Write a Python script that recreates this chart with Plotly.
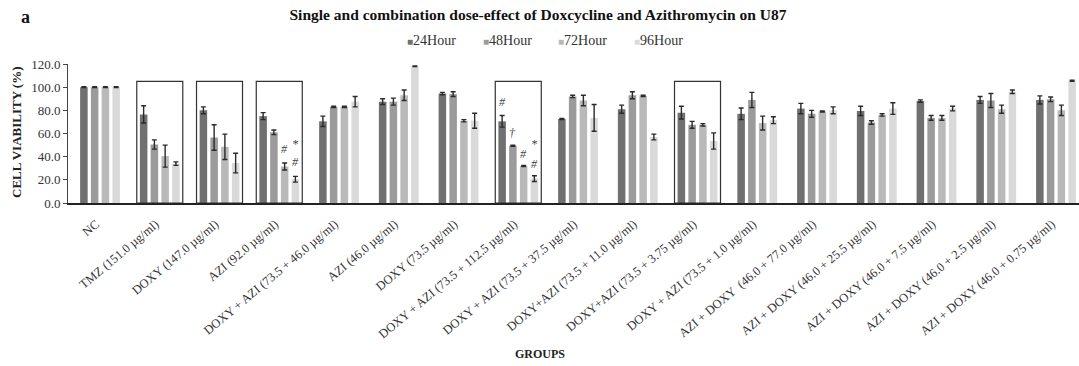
import plotly.graph_objects as go

groups = [
    "NC",
    "TMZ (151.0 µg/ml)",
    "DOXY (147.0 µg/ml)",
    "AZI (92.0 µg/ml)",
    "DOXY + AZI (73.5 + 46.0 µg/ml)",
    "AZI (46.0 µg/ml)",
    "DOXY (73.5 µg/ml)",
    "DOXY + AZI (73.5 + 112.5 µg/ml)",
    "DOXY + AZI (73.5 + 37.5 µg/ml)",
    "DOXY+AZI (73.5 + 11.0 µg/ml)",
    "DOXY+AZI (73.5 + 3.75 µg/ml)",
    "DOXY + AZI (73.5 + 1.0 µg/ml)",
    "AZI + DOXY  (46.0 + 77.0 µg/ml)",
    "AZI + DOXY (46.0 + 25.5 µg/ml)",
    "AZI + DOXY (46.0 + 7.5 µg/ml)",
    "AZI + DOXY (46.0 + 2.5 µg/ml)",
    "AZI + DOXY (46.0 + 0.75 µg/ml)",
]

series_names = ["24Hour", "48Hour", "72Hour", "96Hour"]

viab_24h = [100.0, 76.5, 80.0, 75.0, 70.5, 87.5, 94.5, 70.5, 72.5, 81.0, 78.0, 77.0, 81.5, 79.5, 88.0, 89.0, 89.0]
viab_48h = [100.0, 50.5, 56.5, 61.0, 83.0, 87.5, 94.0, 49.5, 92.0, 93.0, 67.5, 89.0, 77.0, 69.5, 73.5, 88.5, 89.5]
viab_72h = [100.0, 40.5, 48.5, 31.5, 83.0, 93.0, 71.0, 32.0, 88.5, 92.5, 67.5, 69.0, 79.0, 76.0, 73.5, 81.0, 80.0]
viab_96h = [100.0, 34.0, 34.5, 20.5, 87.5, 118.0, 71.0, 21.0, 73.5, 57.0, 53.5, 71.5, 80.0, 81.5, 81.5, 96.0, 105.5]

err_24h = [0.3, 7.5, 3.0, 3.0, 4.5, 2.5, 1.0, 5.0, 0.5, 3.5, 5.5, 5.0, 4.5, 4.0, 1.0, 3.0, 3.5]
err_48h = [0.3, 4.0, 11.0, 2.0, 0.5, 3.0, 2.0, 0.5, 1.0, 3.0, 3.0, 6.5, 3.0, 1.5, 2.0, 6.0, 2.0]
err_72h = [0.3, 9.5, 11.0, 3.0, 0.5, 4.5, 1.0, 0.5, 4.5, 0.5, 1.0, 6.0, 0.5, 1.0, 2.0, 3.5, 4.5]
err_96h = [0.3, 1.5, 8.5, 2.5, 4.5, 0.3, 6.5, 2.5, 11.5, 2.5, 7.0, 3.0, 3.0, 5.0, 2.0, 1.5, 0.5]

colors = ["#707070", "#9b9b9b", "#b9b9b9", "#d9d9d9"]

# groups outlined with a frame, and the frame height in % viability
boxed_groups = [1, 2, 3, 7, 10]
box_top = 105.0

# significance marks: (group index, series index, symbol, y level)
sig_marks = [
    (3, 2, "#", 47.0),
    (3, 3, "*", 51.0),
    (3, 3, "#", 35.0),
    (7, 0, "#", 87.0),
    (7, 1, "†", 60.5),
    (7, 2, "#", 42.5),
    (7, 3, "*", 51.0),
    (7, 3, "#", 33.5),
]

SERIF = "Liberation Serif, Times New Roman, serif"
W, H = 1079, 366
ML, MR, MT, MB = 68, 0, 64, 163
PW, PH = W - ML - MR, H - MT - MB
bargap = 0.28
bargroupgap = 0.3


def px_x(px):
    return (px - ML) / PW


def px_y(py):
    return (H - MB - py) / PH


values = [viab_24h, viab_48h, viab_72h, viab_96h]
errors = [err_24h, err_48h, err_72h, err_96h]

fig = go.Figure()
for name, vals, errs, col in zip(series_names, values, errors, colors):
    fig.add_trace(go.Bar(
        name=name,
        x=list(range(len(groups))),
        y=vals,
        marker=dict(color=col, line=dict(width=0)),
        error_y=dict(type="data", array=errs, visible=True,
                     color="#2a2a2a", thickness=1.4, width=2.5),
        showlegend=False,
    ))

for g in boxed_groups:
    fig.add_shape(type="rect", xref="x", yref="y",
                  x0=g - 0.385, x1=g + 0.385, y0=0, y1=box_top,
                  line=dict(color="#333333", width=1.2), fillcolor="rgba(0,0,0,0)",
                  layer="above")

slot = (1 - bargap) / 4
for g, s, sym, yv in sig_marks:
    xc = g - (1 - bargap) / 2 + (s + 0.5) * slot
    fig.add_annotation(x=xc, y=yv, xref="x", yref="y", text=f"<i>{sym}</i>", showarrow=False,
                       font=dict(family=SERIF, size=12, color="#444444"),
                       xanchor="center", yanchor="middle")

# legend row: small grey squares followed by the series names
for i, (name, col) in enumerate(zip(series_names, colors)):
    fig.add_annotation(
        x=px_x(405 + i * 75.5), y=px_y(40), xref="paper", yref="paper",
        text=f'<span style="color:{col};font-size:10px">■</span>{name}',
        showarrow=False, xanchor="left", yanchor="middle",
        font=dict(family=SERIF, size=14, color="#333333"))

fig.add_annotation(x=px_x(25), y=px_y(17), xref="paper", yref="paper", text="<b>a</b>",
                   showarrow=False, xanchor="center", yanchor="middle",
                   font=dict(family=SERIF, size=18, color="#111111"))

fig.add_annotation(x=px_x(16), y=px_y(133), xref="paper", yref="paper",
                   text="<b>CELL VIABILITY (%)</b>", textangle=-90, showarrow=False,
                   xanchor="center", yanchor="middle",
                   font=dict(family=SERIF, size=13, color="#222222"))

fig.add_annotation(x=px_x(540), y=px_y(354), xref="paper", yref="paper",
                   text="<b>GROUPS</b>", showarrow=False,
                   xanchor="center", yanchor="middle",
                   font=dict(family=SERIF, size=12, color="#222222"))

fig.update_layout(
    width=W, height=H,
    margin=dict(l=ML, r=MR, t=MT, b=MB),
    paper_bgcolor="white", plot_bgcolor="white",
    barmode="group", bargap=bargap, bargroupgap=bargroupgap,
    showlegend=False,
    title=dict(text="<b>Single and combination dose-effect of Doxcycline and Azithromycin on U87</b>",
               x=538 / W, xref="container", xanchor="center", y=1 - 15 / H, yanchor="middle",
               font=dict(family=SERIF, size=15.5, color="#111111")),
    font=dict(family=SERIF, color="#333333"),
    xaxis=dict(
        tickmode="array", tickvals=list(range(len(groups))), ticktext=groups,
        range=[-0.536, 16.385], tickangle=-40,
        tickfont=dict(family=SERIF, size=12.5, color="#333333"),
        ticklabelstandoff=7, ticklabelshift=-4,
        showline=True, linecolor="#222222", linewidth=2, ticks="",
        showgrid=False, zeroline=False,
    ),
    yaxis=dict(
        range=[0, 120], dtick=20, tickformat=".1f",
        tickfont=dict(family=SERIF, size=13, color="#333333"),
        showline=True, linecolor="#444444", linewidth=1, ticks="outside", ticklen=4,
        tickcolor="#444444", showgrid=False, zeroline=False,
    ),
)

fig.write_html("out.html")
